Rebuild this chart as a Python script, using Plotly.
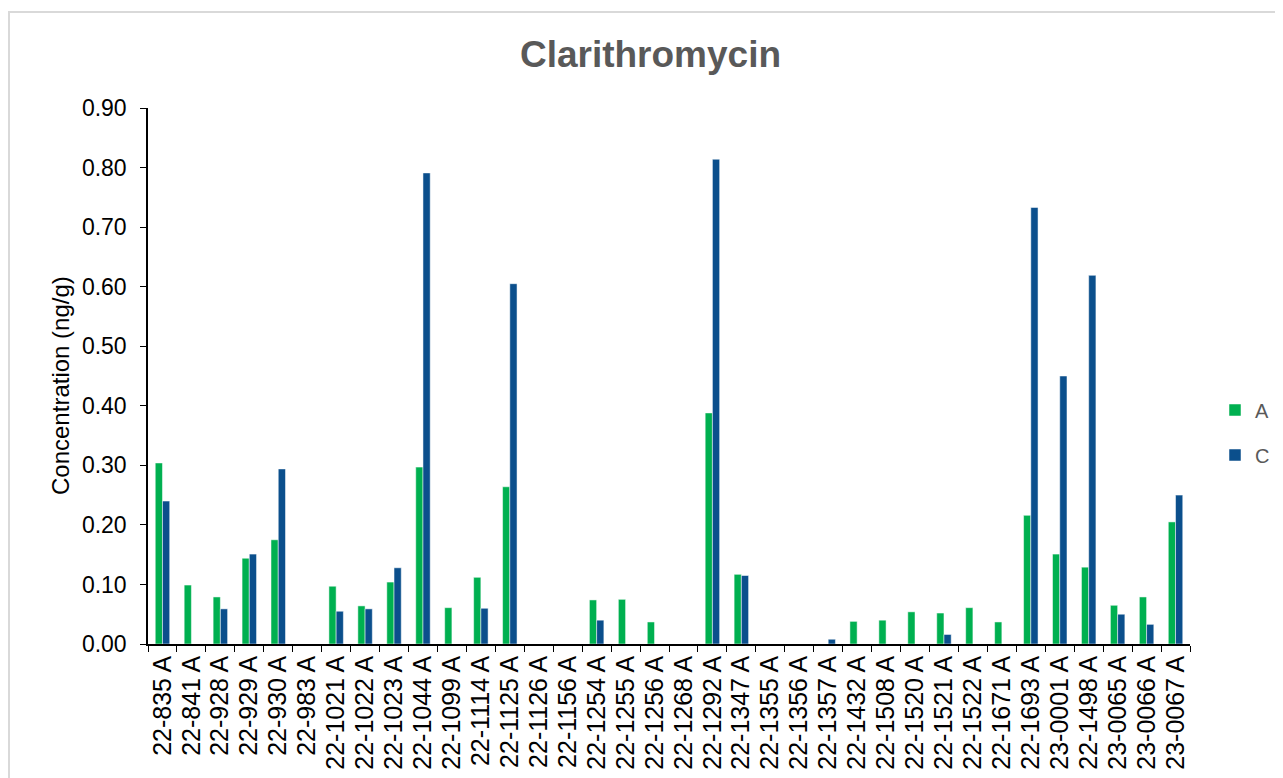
import plotly.graph_objects as go

categories = ["22-835 A", "22-841 A", "22-928 A", "22-929 A", "22-930 A", "22-983 A",
              "22-1021 A", "22-1022 A", "22-1023 A", "22-1044 A", "22-1099 A", "22-1114 A",
              "22-1125 A", "22-1126 A", "22-1156 A", "22-1254 A", "22-1255 A", "22-1256 A",
              "22-1268 A", "22-1292 A", "22-1347 A", "22-1355 A", "22-1356 A", "22-1357 A",
              "22-1432 A", "22-1508 A", "22-1520 A", "22-1521 A", "22-1522 A", "22-1671 A",
              "22-1693 A", "23-0001 A", "22-1498 A", "23-0065 A", "23-0066 A", "23-0067 A"]

series_a = [0.304, 0.099, 0.079, 0.144, 0.175, None,
            0.097, 0.064, 0.104, 0.297, 0.061, 0.112,
            0.264, None, None, 0.074, 0.075, 0.037,
            None, 0.388, 0.117, None, None, None,
            0.038, 0.040, 0.054, 0.052, 0.061, 0.037,
            0.216, 0.151, 0.129, 0.065, 0.079, 0.205]

series_c = [0.240, None, 0.059, 0.151, 0.294, None,
            0.055, 0.059, 0.128, 0.791, None, 0.060,
            0.605, None, None, 0.040, None, None,
            None, 0.814, 0.115, None, None, 0.008,
            None, None, None, 0.016, None, None,
            0.733, 0.450, 0.619, 0.050, 0.033, 0.250]

y_ticks = [0.0, 0.1, 0.2, 0.3, 0.4, 0.5, 0.6, 0.7, 0.8, 0.9]

FONT = "Liberation Sans, Arial, sans-serif"

# page body has an 8px margin; figure is sized to fit the window
OFF = 8
W, H = 1283 - OFF, 778 - OFF
PL, PT, PW, PH = 148, 108, 1042, 536  # plot area in window pixels

fig = go.Figure()
fig.add_trace(go.Bar(x=categories, y=series_a, name="A", legendgroup="A",
                     marker=dict(color="#00B050", line=dict(color="white", width=0.5))))
fig.add_trace(go.Bar(x=categories, y=series_c, name="C", legendgroup="C",
                     marker=dict(color="#0B4F8C", line=dict(color="white", width=0.5))))

fig.update_layout(
    width=W, height=H,
    margin=dict(l=PL - OFF, r=W - (PL - OFF) - PW, t=PT - OFF, b=H - (PT - OFF) - PH,
                autoexpand=False),
    paper_bgcolor="white", plot_bgcolor="white",
    barmode="group", bargap=0.5, bargroupgap=0.0,
    title=dict(text="<b>Clarithromycin</b>", x=(650.5 - OFF) / W, xanchor="center",
               xref="container",
               y=1 - (54 - OFF) / H, yref="container", yanchor="middle",
               font=dict(family=FONT, size=37, color="#595959")),
    font=dict(family=FONT, color="black"),
    legend=dict(x=(1215 - PL) / PW, xanchor="left", y=(644 - 432.5) / PH, yanchor="middle",
                font=dict(family=FONT, size=20, color="#595959"),
                traceorder="grouped", tracegroupgap=16,
                bgcolor="rgba(0,0,0,0)"),
    shapes=[dict(type="rect", xref="paper", yref="paper",
                 x0=(9 - PL) / PW, x1=(1295 - PL) / PW,
                 y0=(644 - 800) / PH, y1=(644 - 12) / PH,
                 line=dict(color="#d9d9d9", width=2), fillcolor="rgba(0,0,0,0)",
                 layer="below")],
    annotations=[dict(text="Concentration (ng/g)", textangle=-90, showarrow=False,
                      xref="paper", yref="paper",
                      x=(60 - PL) / PW, y=(644 - 386) / PH,
                      xanchor="center", yanchor="middle",
                      font=dict(family=FONT, size=24, color="black"))],
)

fig.update_xaxes(
    type="category", tickangle=-90, tickson="boundaries",
    tickmode="array", tickvals=categories, ticktext=categories,
    ticks="outside", ticklen=6, tickcolor="black", tickwidth=1,
    showline=True, linecolor="black", linewidth=1.5,
    tickfont=dict(family=FONT, size=25, color="black"),
    showgrid=False, automargin=False,
)
fig.update_yaxes(
    range=[0, 0.9], tickvals=y_ticks, tickformat=".2f",
    ticks="outside", ticklen=6, tickcolor="black", tickwidth=1,
    showline=True, linecolor="black", linewidth=1.5,
    tickfont=dict(family=FONT, size=23, color="black"),
    ticklabelstandoff=9,
    showgrid=False, zeroline=False, automargin=False,
)

fig.write_html("out.html")
